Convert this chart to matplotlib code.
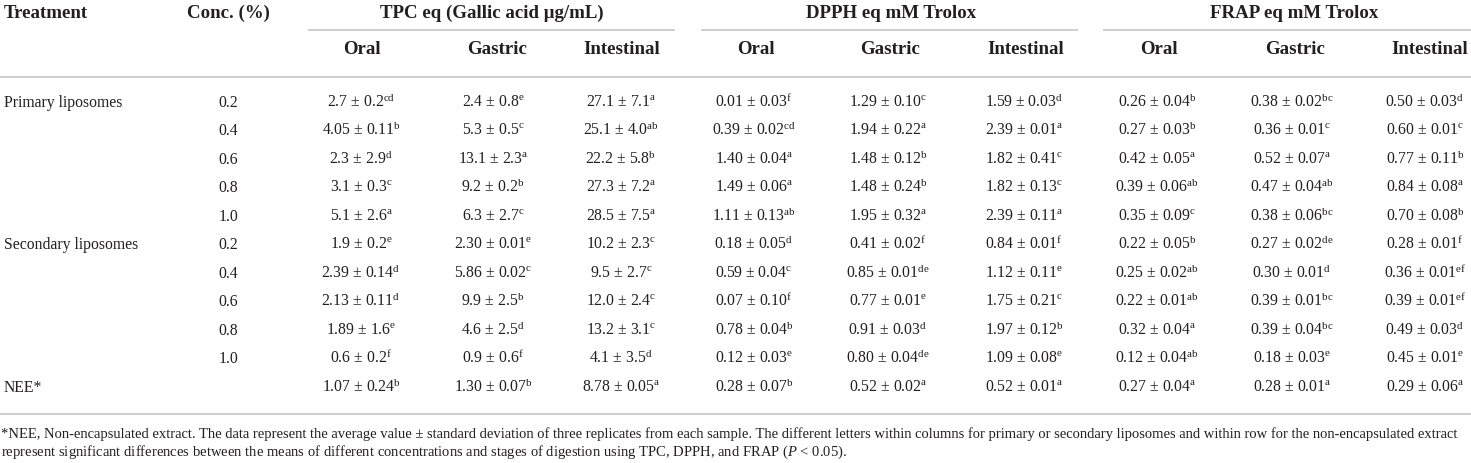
import matplotlib
matplotlib.use('Agg')
import matplotlib.pyplot as plt

plt.rcParams['font.family'] = ['Liberation Serif', 'DejaVu Serif']
plt.rcParams['mathtext.fontset'] = 'custom'
plt.rcParams['mathtext.rm'] = 'Liberation Serif'
plt.rcParams['mathtext.it'] = 'Liberation Serif:italic'
plt.rcParams['mathtext.bf'] = 'Liberation Serif:bold'

# table content
treatments = ['Primary liposomes', '', '', '', '',
              'Secondary liposomes', '', '', '', '', 'NEE*']
concs = ['0.2', '0.4', '0.6', '0.8', '1.0',
         '0.2', '0.4', '0.6', '0.8', '1.0', '']
groups = ['TPC eq (Gallic acid \u03bcg/mL)', 'DPPH eq mM Trolox', 'FRAP eq mM Trolox']
stages = ['Oral', 'Gastric', 'Intestinal']

tpc_oral = ['2.7 \u00b1 0.2', '4.05 \u00b1 0.11', '2.3 \u00b1 2.9', '3.1 \u00b1 0.3', '5.1 \u00b1 2.6',
            '1.9 \u00b1 0.2', '2.39 \u00b1 0.14', '2.13 \u00b1 0.11', '1.89 \u00b1 1.6', '0.6 \u00b1 0.2',
            '1.07 \u00b1 0.24']
tpc_oral_sig = ['cd', 'b', 'd', 'c', 'a', 'e', 'd', 'd', 'e', 'f', 'b']
tpc_gastric = ['2.4 \u00b1 0.8', '5.3 \u00b1 0.5', '13.1 \u00b1 2.3', '9.2 \u00b1 0.2', '6.3 \u00b1 2.7',
               '2.30 \u00b1 0.01', '5.86 \u00b1 0.02', '9.9 \u00b1 2.5', '4.6 \u00b1 2.5', '0.9 \u00b1 0.6',
               '1.30 \u00b1 0.07']
tpc_gastric_sig = ['e', 'c', 'a', 'b', 'c', 'e', 'c', 'b', 'd', 'f', 'b']
tpc_int = ['27.1 \u00b1 7.1', '25.1 \u00b1 4.0', '22.2 \u00b1 5.8', '27.3 \u00b1 7.2', '28.5 \u00b1 7.5',
           '10.2 \u00b1 2.3', '9.5 \u00b1 2.7', '12.0 \u00b1 2.4', '13.2 \u00b1 3.1', '4.1 \u00b1 3.5',
           '8.78 \u00b1 0.05']
tpc_int_sig = ['a', 'ab', 'b', 'a', 'a', 'c', 'c', 'c', 'c', 'd', 'a']

dpph_oral = ['0.01 \u00b1 0.03', '0.39 \u00b1 0.02', '1.40 \u00b1 0.04', '1.49 \u00b1 0.06', '1.11 \u00b1 0.13',
             '0.18 \u00b1 0.05', '0.59 \u00b1 0.04', '0.07 \u00b1 0.10', '0.78 \u00b1 0.04', '0.12 \u00b1 0.03',
             '0.28 \u00b1 0.07']
dpph_oral_sig = ['f', 'cd', 'a', 'a', 'ab', 'd', 'c', 'f', 'b', 'e', 'b']
dpph_gastric = ['1.29 \u00b1 0.10', '1.94 \u00b1 0.22', '1.48 \u00b1 0.12', '1.48 \u00b1 0.24', '1.95 \u00b1 0.32',
                '0.41 \u00b1 0.02', '0.85 \u00b1 0.01', '0.77 \u00b1 0.01', '0.91 \u00b1 0.03', '0.80 \u00b1 0.04',
                '0.52 \u00b1 0.02']
dpph_gastric_sig = ['c', 'a', 'b', 'b', 'a', 'f', 'de', 'e', 'd', 'de', 'a']
dpph_int = ['1.59 \u00b1 0.03', '2.39 \u00b1 0.01', '1.82 \u00b1 0.41', '1.82 \u00b1 0.13', '2.39 \u00b1 0.11',
            '0.84 \u00b1 0.01', '1.12 \u00b1 0.11', '1.75 \u00b1 0.21', '1.97 \u00b1 0.12', '1.09 \u00b1 0.08',
            '0.52 \u00b1 0.01']
dpph_int_sig = ['d', 'a', 'c', 'c', 'a', 'f', 'e', 'c', 'b', 'e', 'a']

frap_oral = ['0.26 \u00b1 0.04', '0.27 \u00b1 0.03', '0.42 \u00b1 0.05', '0.39 \u00b1 0.06', '0.35 \u00b1 0.09',
             '0.22 \u00b1 0.05', '0.25 \u00b1 0.02', '0.22 \u00b1 0.01', '0.32 \u00b1 0.04', '0.12 \u00b1 0.04',
             '0.27 \u00b1 0.04']
frap_oral_sig = ['b', 'b', 'a', 'ab', 'c', 'b', 'ab', 'ab', 'a', 'ab', 'a']
frap_gastric = ['0.38 \u00b1 0.02', '0.36 \u00b1 0.01', '0.52 \u00b1 0.07', '0.47 \u00b1 0.04', '0.38 \u00b1 0.06',
                '0.27 \u00b1 0.02', '0.30 \u00b1 0.01', '0.39 \u00b1 0.01', '0.39 \u00b1 0.04', '0.18 \u00b1 0.03',
                '0.28 \u00b1 0.01']
frap_gastric_sig = ['bc', 'c', 'a', 'ab', 'bc', 'de', 'd', 'bc', 'bc', 'e', 'a']
frap_int = ['0.50 \u00b1 0.03', '0.60 \u00b1 0.01', '0.77 \u00b1 0.11', '0.84 \u00b1 0.08', '0.70 \u00b1 0.08',
            '0.28 \u00b1 0.01', '0.36 \u00b1 0.01', '0.39 \u00b1 0.01', '0.49 \u00b1 0.03', '0.45 \u00b1 0.01',
            '0.29 \u00b1 0.06']
frap_int_sig = ['d', 'c', 'b', 'a', 'b', 'f', 'ef', 'ef', 'd', 'e', 'a']

footnote1 = ('*NEE, Non-encapsulated extract. The data represent the average value \u00b1 standard deviation '
             'of three replicates from each sample. The different letters within columns for primary or '
             'secondary liposomes and within row for the non-encapsulated extract')
footnote2 = ('represent significant differences between the means of different concentrations and '
             'stages of digestion using TPC, DPPH, and FRAP ($\\mathit{P}$ < 0.05).')

columns = [(tpc_oral, tpc_oral_sig), (tpc_gastric, tpc_gastric_sig), (tpc_int, tpc_int_sig),
           (dpph_oral, dpph_oral_sig), (dpph_gastric, dpph_gastric_sig), (dpph_int, dpph_int_sig),
           (frap_oral, frap_oral_sig), (frap_gastric, frap_gastric_sig), (frap_int, frap_int_sig)]

# layout (pixel coords, y down)
W, H = 1471, 464
ink = '#231f20'
rule = '#cfcfcf'
col_x = [362, 497, 622, 756, 890, 1026, 1159, 1295, 1430]
data_x = [361, 493, 621, 754, 888, 1024, 1157, 1292, 1425]
group_x = [492, 891, 1294]
group_lines = [(308, 675), (701, 1078), (1103, 1471)]
row_y0, row_dy = 102, 28.5
head_fs, body_fs = 13.6, 11.3

fig = plt.figure(figsize=(W / 100, H / 100), dpi=100)
ax = fig.add_axes([0, 0, 1, 1])
ax.set_xlim(0, W)
ax.set_ylim(H, 0)
ax.axis('off')

# header
ax.text(4, 13, 'Treatment', fontsize=head_fs, fontweight='bold', color=ink, ha='left', va='center')
ax.text(228, 13, 'Conc. (%)', fontsize=head_fs, fontweight='bold', color=ink, ha='center', va='center')
for gx, g in zip(group_x, groups):
    ax.text(gx, 13, g, fontsize=head_fs, fontweight='bold', color=ink, ha='center', va='center')
for x0, x1 in group_lines:
    ax.plot([x0, x1], [31, 31], color=rule, lw=1.4, solid_capstyle='butt')
for i, cx in enumerate(col_x):
    ax.text(cx, 50, stages[i % 3], fontsize=head_fs, fontweight='bold', color=ink, ha='center', va='center')
ax.plot([0, W], [78, 78], color=rule, lw=1.4)

# body
for r in range(len(concs)):
    y = row_y0 + r * row_dy
    base = y + 5
    if treatments[r]:
        ax.text(4, base, treatments[r], fontsize=body_fs, color=ink, ha='left', va='baseline')
    if concs[r]:
        ax.text(228, base, concs[r], fontsize=body_fs, color=ink, ha='center', va='baseline')
    for cx, (vals, sigs) in zip(data_x, columns):
        s = vals[r] + '$^{\\mathregular{' + sigs[r] + '}}$'
        ax.text(cx, base, s, fontsize=body_fs, color=ink, ha='center', va='baseline')

ax.plot([0, W], [415, 415], color=rule, lw=1.4)

# footnote, fitted to the full width
t1 = ax.text(1, 438, footnote1, fontsize=10, color=ink, ha='left', va='baseline')
t2 = ax.text(1, 456, footnote2, fontsize=10, color=ink, ha='left', va='baseline')
fig.canvas.draw()
w = t1.get_window_extent().width
fs = 10 * 1464 / w
t1.set_fontsize(fs)
t2.set_fontsize(fs)

fig.savefig('out.png', dpi=100)
